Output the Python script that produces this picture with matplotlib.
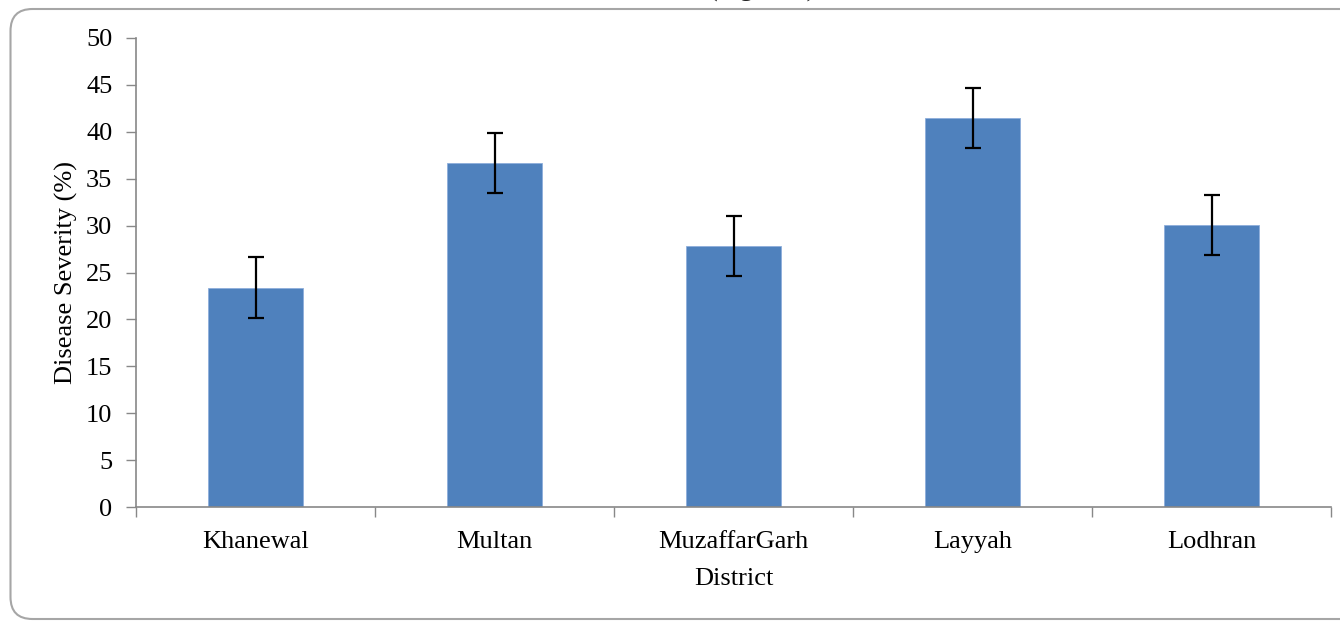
import numpy as np
from matplotlib import pyplot as plt
from matplotlib.patches import FancyBboxPatch
from matplotlib.transforms import IdentityTransform

# data
districts = ["Khanewal", "Multan", "MuzaffarGarh", "Layyah", "Lodhran"]
severity = [23.4, 36.7, 27.8, 41.5, 30.1]
sev_err = [3.2, 3.2, 3.2, 3.2, 3.2]
yticks = [0, 5, 10, 15, 20, 25, 30, 35, 40, 45, 50]

plt.rcParams['font.family'] = ['Liberation Serif', 'DejaVu Serif']

W, H = 1340, 621
fig = plt.figure(figsize=(W / 100, H / 100), dpi=100, facecolor="w")

# rounded chart-area frame (pixel coords), running off the right edge
frame = FancyBboxPatch(
    (10.5, 2), W + 40, H - 11,
    boxstyle="round,pad=0,rounding_size=22",
    transform=IdentityTransform(), facecolor="none", edgecolor="#a6a6a6",
    lw=1.5)
fig.patches.append(frame)

# title sits above the top edge, only its descenders show
fig.text(709 / W, 1 + 3 / H, "(Figure 1)", fontsize=19, ha="left", va="baseline",
         color="#222222")

ax = fig.add_axes([136 / W, 1 - 507 / H, (1331 - 136) / W, (507 - 38) / H])
x = np.arange(len(districts))
ax.bar(x, severity, width=0.4, color="#4f81bd", edgecolor="#8eaedb", lw=0.6, zorder=2)
ax.errorbar(x, severity, yerr=sev_err, fmt="none", ecolor="black", elinewidth=1.6,
            capsize=6, capthick=1.6, zorder=3)

ax.set_xlim(-0.5, len(districts) - 0.5)
ax.set_ylim(0, 50)
ax.set_yticks(yticks)
ax.set_xticks(x)
ax.set_xticklabels(districts)
ax.set_xticks(np.arange(len(districts) + 1) - 0.5, minor=True)
ax.tick_params(axis="x", which="major", length=0, pad=17, labelsize=19)
ax.tick_params(axis="x", which="minor", length=7, color="#888888", width=1)
ax.tick_params(axis="y", length=7, color="#888888", width=1, labelsize=19, pad=10)

for s in ["top", "right"]:
    ax.spines[s].set_visible(False)
for s in ["left", "bottom"]:
    ax.spines[s].set_color("#888888")
    ax.spines[s].set_linewidth(1.2)

ax.set_xlabel("District", fontsize=19, labelpad=11)
ax.set_ylabel("Disease Severity (%)", fontsize=19, labelpad=6)

fig.savefig("out.png", dpi=100, facecolor="w")
